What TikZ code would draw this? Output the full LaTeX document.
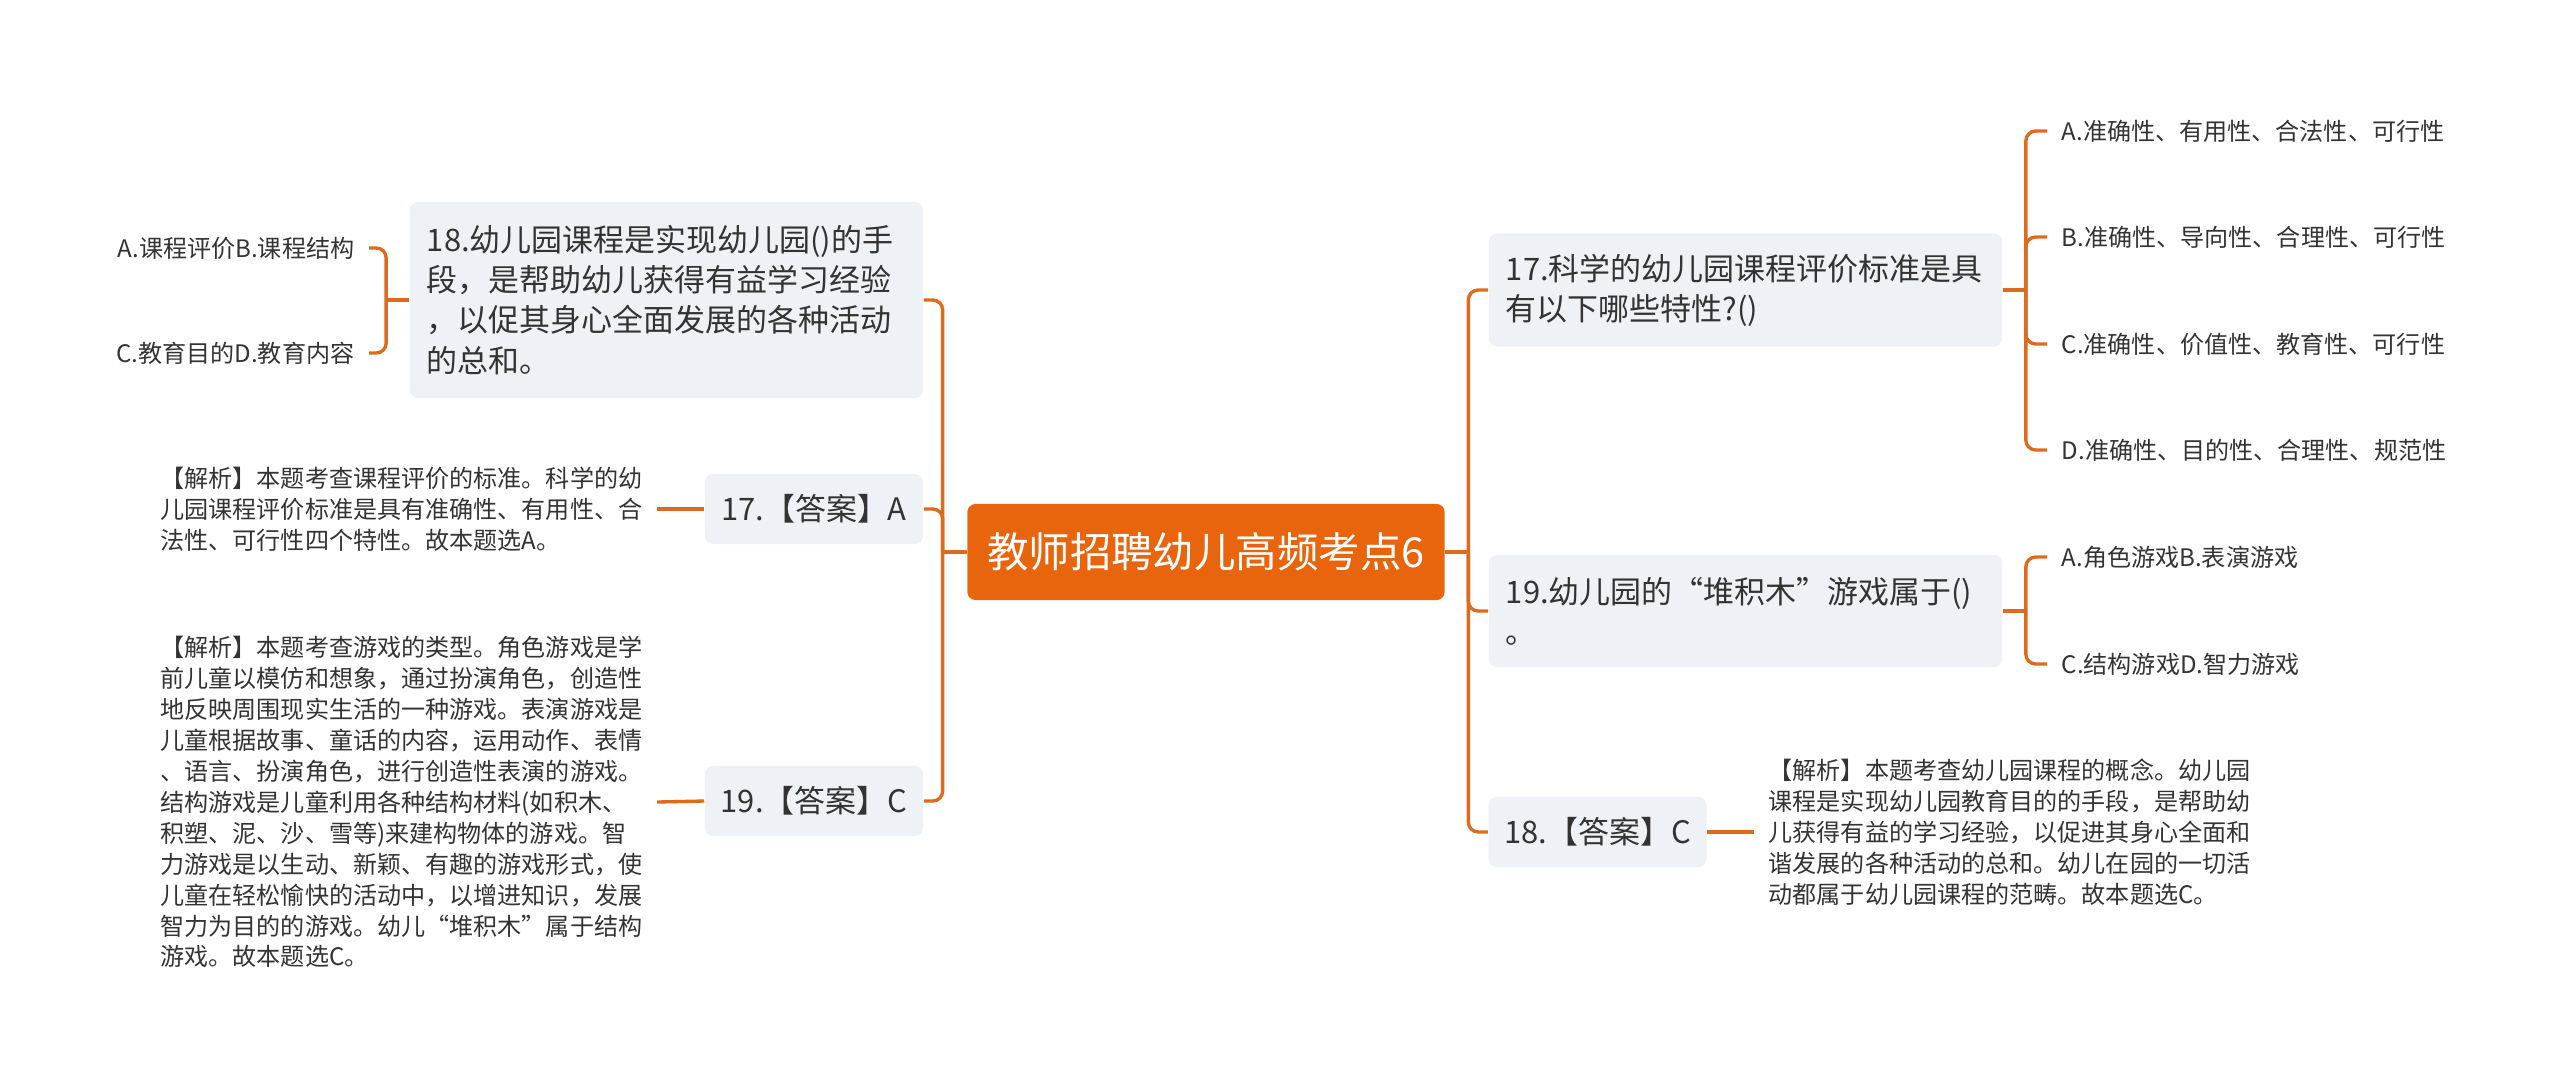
\documentclass[tikz,border=0pt]{standalone}
\usepackage{fontspec}
\newfontfamily\cjk{Noto Sans CJK SC}
\usepackage{tikz}
\usetikzlibrary{positioning,calc}
\definecolor{cnaranja}{HTML}{E8650D}
\definecolor{clinea}{HTML}{DE6A1E}
\definecolor{cfondo}{HTML}{EEF1F5}
\definecolor{ctexto}{HTML}{333333}
\tikzset{
  raiz/.style={rectangle, rounded corners=2.3pt, fill=cnaranja, text=white,
    minimum width=4.77cm, minimum height=0.96cm, font=\fontsize{11.8pt}{14pt}\cjk},
  preg/.style={rectangle, rounded corners=2.3pt, fill=cfondo, text=ctexto,
    align=left, text width=4.79cm, inner xsep=0.17cm, font=\fontsize{8.8pt}{11.4pt}\cjk},
  resp/.style={rectangle, rounded corners=2.3pt, fill=cfondo, text=ctexto,
    minimum width=2.18cm, minimum height=0.70cm, font=\fontsize{8.8pt}{11.4pt}\cjk},
  hoja/.style={inner xsep=0.14cm, inner ysep=0pt, align=left, text=ctexto,
    font=\fontsize{6.85pt}{8.8pt}\cjk},
  rama/.style={draw=clinea, line width=0.95pt, rounded corners=2.8pt},
}

\begin{document}
\begin{tikzpicture}[x=0.01cm, y=-0.01cm]
  \useasboundingbox (0,0) rectangle (2560,1087);
  % centro
  \node[raiz] (raiz) at (1206,552) {教师招聘幼儿高频考点6};

  % lado derecho
  \node[preg, minimum height=1.13cm] (p17) at (1745.5,290) {17.科学的幼儿园课程评价标准是具\\有以下哪些特性?()};
  \node[preg, minimum height=1.12cm] (p19) at (1745.5,611) {19.幼儿园的“堆积木”游戏属于()\\。};
  \node[resp] (r18) at (1597.5,832) {18.【答案】C};

  \node[hoja, anchor=west] (o17a) at (2047,131) {A.准确性、有用性、合法性、可行性};
  \node[hoja, anchor=west] (o17b) at (2047,237) {B.准确性、导向性、合理性、可行性};
  \node[hoja, anchor=west] (o17c) at (2047,344) {C.准确性、价值性、教育性、可行性};
  \node[hoja, anchor=west] (o17d) at (2047,450) {D.准确性、目的性、合理性、规范性};
  \node[hoja, anchor=west] (o19a) at (2047,557) {A.角色游戏B.表演游戏};
  \node[hoja, anchor=west] (o19c) at (2047,664) {C.结构游戏D.智力游戏};
  \node[hoja, anchor=west] (e18) at (1754,832) {【解析】本题考查幼儿园课程的概念。幼儿园\\课程是实现幼儿园教育目的的手段，是帮助幼\\儿获得有益的学习经验，以促进其身心全面和\\谐发展的各种活动的总和。幼儿在园的一切活\\动都属于幼儿园课程的范畴。故本题选C。};

  % lado izquierdo
  \node[preg, minimum height=1.96cm] (p18) at (666.5,300) {18.幼儿园课程是实现幼儿园()的手\\段，是帮助幼儿获得有益学习经验\\，以促其身心全面发展的各种活动\\的总和。};
  \node[resp] (r17) at (814,509) {17.【答案】A};
  \node[resp] (r19) at (814,801) {19.【答案】C};

  \node[hoja, anchor=east] (o18a) at (369,248) {A.课程评价B.课程结构};
  \node[hoja, anchor=east] (o18c) at (369,353) {C.教育目的D.教育内容};
  \node[hoja, anchor=east] (e17) at (657,509) {【解析】本题考查课程评价的标准。科学的幼\\儿园课程评价标准是具有准确性、有用性、合\\法性、可行性四个特性。故本题选A。};
  \node[hoja, anchor=east] (e19) at (657,802) {【解析】本题考查游戏的类型。角色游戏是学\\前儿童以模仿和想象，通过扮演角色，创造性\\地反映周围现实生活的一种游戏。表演游戏是\\儿童根据故事、童话的内容，运用动作、表情\\、语言、扮演角色，进行创造性表演的游戏。\\结构游戏是儿童利用各种结构材料(如积木、\\积塑、泥、沙、雪等)来建构物体的游戏。智\\力游戏是以生动、新颖、有趣的游戏形式，使\\儿童在轻松愉快的活动中，以增进知识，发展\\智力为目的的游戏。幼儿“堆积木”属于结构\\游戏。故本题选C。};

  % ramas
  \coordinate (td) at ($(raiz.east)+(23,0)$);
  \coordinate (ti) at ($(raiz.west)+(-24,0)$);
  \draw[rama] (raiz.east) -- (td);
  \draw[rama] (raiz.west) -- (ti);
  \foreach \n in {p17,p19,r18} \draw[rama] (td) |- (\n.west);
  \foreach \n in {p18,r17,r19} \draw[rama] (ti) |- (\n.east);

  \coordinate (c17) at ($(p17.east)+(23,0)$);
  \coordinate (c19) at ($(p19.east)+(23,0)$);
  \coordinate (c18) at ($(p18.west)+(-23,0)$);
  \draw[rama] (p17.east) -- (c17);
  \draw[rama] (p19.east) -- (c19);
  \draw[rama] (p18.west) -- (c18);
  \foreach \o in {o17a,o17b,o17c,o17d} \draw[rama] (c17) |- (\o.west);
  \foreach \o in {o19a,o19c} \draw[rama] (c19) |- (\o.west);
  \foreach \o in {o18a,o18c} \draw[rama] (c18) |- (\o.east);

  \draw[rama] (r18.east) -- (e18.west);
  \draw[rama] (r17.west) -- (e17.east);
  \draw[rama] (r19.west) -- (e19.east);
\end{tikzpicture}
\end{document}
